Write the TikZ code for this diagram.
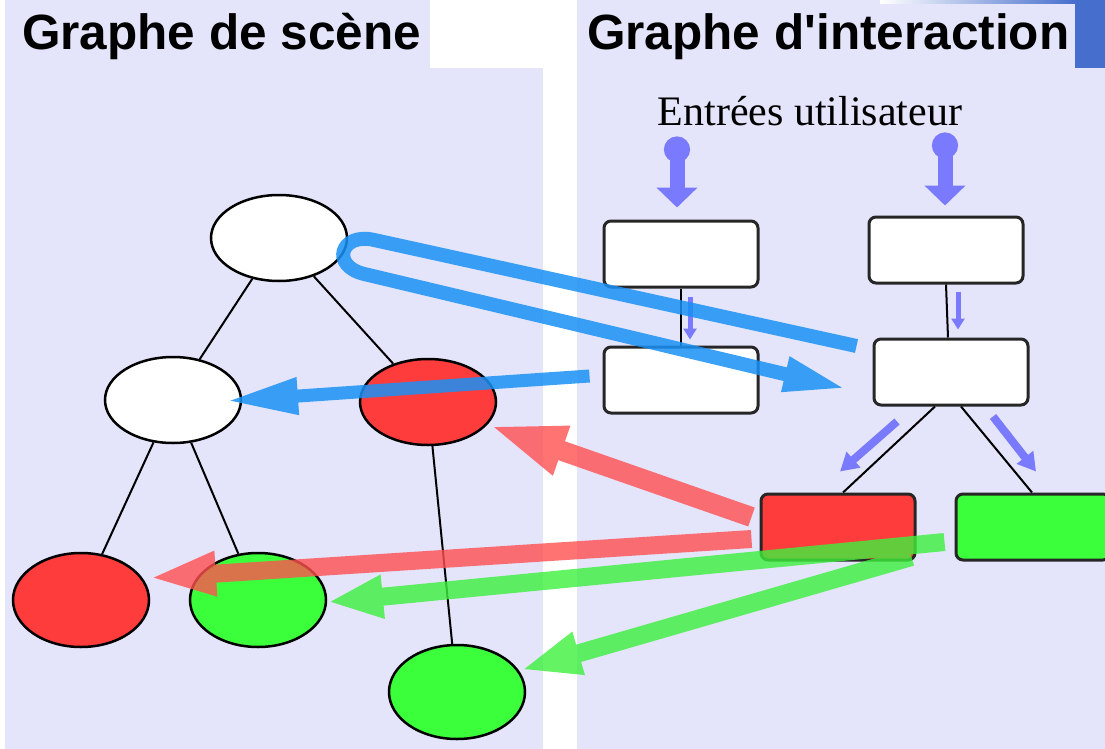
\documentclass[tikz,border=0pt]{standalone}
\usepackage{fontspec}
\setmainfont{Liberation Serif}
\setsansfont{Liberation Sans}[Ligatures=TeXOff]
\usepackage{tikz}
\usetikzlibrary{shapes.geometric, arrows.meta, positioning, calc}

\definecolor{lav}{RGB}{228,228,250}
\definecolor{topblue}{RGB}{70,110,205}
\definecolor{nodered}{RGB}{255,60,60}
\definecolor{nodegreen}{RGB}{60,255,60}
\definecolor{userblue}{RGB}{122,122,255}
\definecolor{linkblue}{RGB}{25,145,245}
\definecolor{linkred}{RGB}{255,80,80}
\definecolor{linkgreen}{RGB}{60,240,60}

\begin{document}
\begin{tikzpicture}[
      x=1pt, y=-1pt,
      title/.style={
          font=\sffamily\bfseries\fontsize{49.5}{49.5}\selectfont,
          inner sep=0pt,
          anchor=base west
        },
      scene/.style={
          ellipse,
          draw,
          line width=2.5pt,
          minimum width=136pt,
          minimum height=86pt,
          inner sep=0pt,
          fill=white
        },
      leaf/.style={
          scene,
          minimum height=94pt
        },
      inter/.style={
          rectangle,
          draw=black!85,
          line width=3pt,
          rounded corners=7pt,
          minimum width=154pt,
          minimum height=66pt,
          fill=white
        },
      tree/.style={
          line width=2pt
        },
      userin/.style={
          userblue,
          line width=15pt,
          {Circle[length=26pt]}-{Triangle[length=20pt,width=40pt]}
        },
      userflow/.style={
          userblue,
          line width=5pt,
          -{Triangle[length=11pt,width=13pt]}
        },
      userdiag/.style={
          userblue,
          line width=8pt,
          -{Triangle[length=18pt,width=20pt]}
        },
      link/.style={
          line cap=butt
        }
    ]
    \useasboundingbox (0,0) rectangle (1105,749);

    % Panels
    \fill[lav] (5,68) rectangle (543,749);
    \fill[lav] (5,0) rectangle (430,68);
    \fill[lav] (577,68) rectangle (1105,749);
    \fill[lav] (577,0) rectangle (1075,68);
    \shade[left color=white, right color=topblue] (880,0) rectangle (1075,4);
    \fill[topblue] (1075,0) rectangle (1105,68);

    % Titles
    \node[title] (title_scene) at (22,50) {Graphe de scène};
    \node[title] (title_inter) at (587,50) {Graphe d'interaction};
    \node[anchor=base, inner sep=0pt, font=\fontsize{42}{42}\selectfont] (inputs) at (810,125) {Entrées utilisateur};

    % Graphe de scene
    \node[scene] (scene_root) at (279,238) {};
    \node[scene] (scene_left) at (173,400) {};
    \node[scene, fill=nodered] (scene_right) at (428,402) {};
    \node[leaf, fill=nodered] (scene_ll) at (81,600) {};
    \node[leaf, fill=nodegreen] (scene_lr) at (258,600) {};
    \node[leaf, fill=nodegreen] (scene_rb) at (457,692) {};

    \draw[tree] (scene_root) -- (scene_left);
    \draw[tree] (scene_root) -- (scene_right);
    \draw[tree] (scene_left) -- (scene_ll);
    \draw[tree] (scene_left) -- (scene_lr);
    \draw[tree] (scene_right) -- (scene_rb);

    % Graphe d'interaction
    \node[inter] (inter_a1) at (681,254) {};
    \node[inter, below=57pt of inter_a1] (inter_a2) {};
    \node[inter] (inter_b1) at (946,250) {};
    \node[inter] (inter_b2) at (951,372) {};
    \node[inter, fill=nodered] (inter_red) at (838,527) {};
    \node[inter, fill=nodegreen] (inter_green) at (1033,527) {};

    \draw[tree] (inter_a1) -- (inter_a2);
    \draw[tree] (inter_b1.south) -- ([xshift=-3pt]inter_b2.north);
    \draw[tree] ([xshift=-16pt]inter_b2.south) -- ([xshift=5pt]inter_red.north);
    \draw[tree] ([xshift=10pt]inter_b2.south) -- ([xshift=-1pt]inter_green.north);

    % Entrees utilisateur
    \draw[userin] ($(inter_a1.north)+(-4,-83)$) -- ($(inter_a1.north)+(-4,-12)$);
    \draw[userin] ($(inter_b1.north)+(-1,-83)$) -- ($(inter_b1.north)+(-1,-10)$);
    \draw[userflow] ($(inter_a1.south)+(9,8)$) -- ($(inter_a2.north)+(9,-6)$);
    \draw[userflow] ($(inter_b1.south)+(12,7)$) -- ($(inter_b2.north)+(7,-8)$);
    \draw[userdiag] ($(inter_b2.south)+(-54,15)$) -- ($(inter_red.north)+(2,-21)$);
    \draw[userdiag] ($(inter_b2.south)+(42,10)$) -- ($(inter_green.north)+(3,-21)$);

    % Liens vers le graphe de scene
    \begin{scope}[transparency group, opacity=0.85]
      \draw[link, linkblue, line width=14pt, -{Triangle[length=64pt,width=32pt]}]
        ($(inter_b2.west)+(-16,-26)$) -- ($(scene_root.east)+(26,2)$)
        .. controls ($(scene_root.east)+(-8,-6)$) and ($(scene_root.east)+(-18,28)$) ..
        ($(scene_root.east)+(16,36)$) -- ($(inter_b2.west)+(-25,17)$);
      \draw[link, linkblue, line width=13pt, -{Triangle[length=72pt,width=34pt]}]
        ($(inter_a2.west)+(-13,-4)$) -- ($(scene_left.center)+(53,1)$);
    \end{scope}
    \begin{scope}[transparency group, opacity=0.8]
      \draw[link, linkred, line width=20pt, -{Triangle[length=78pt,width=46pt]}]
        ($(inter_red.west)+(-8,-10)$) -- ($(scene_right.center)+(60,23)$);
      \draw[link, linkred, line width=18pt, -{Triangle[length=68pt,width=40pt]}]
        ($(inter_red.west)+(-8,12)$) -- ($(scene_ll.center)+(67,-22)$);
    \end{scope}
    \begin{scope}[transparency group, opacity=0.8]
      \draw[link, linkgreen, line width=18pt, -{Triangle[length=55pt,width=40pt]}]
        ($(inter_green.west)+(-10,15)$) -- ($(scene_lr.center)+(70,2)$);
      \draw[link, linkgreen, line width=18pt, -{Triangle[length=60pt,width=40pt]}]
        ($(inter_green.west)+(-43,30)$) -- ($(scene_rb.center)+(64,-22)$);
    \end{scope}
  \end{tikzpicture}
\end{document}
